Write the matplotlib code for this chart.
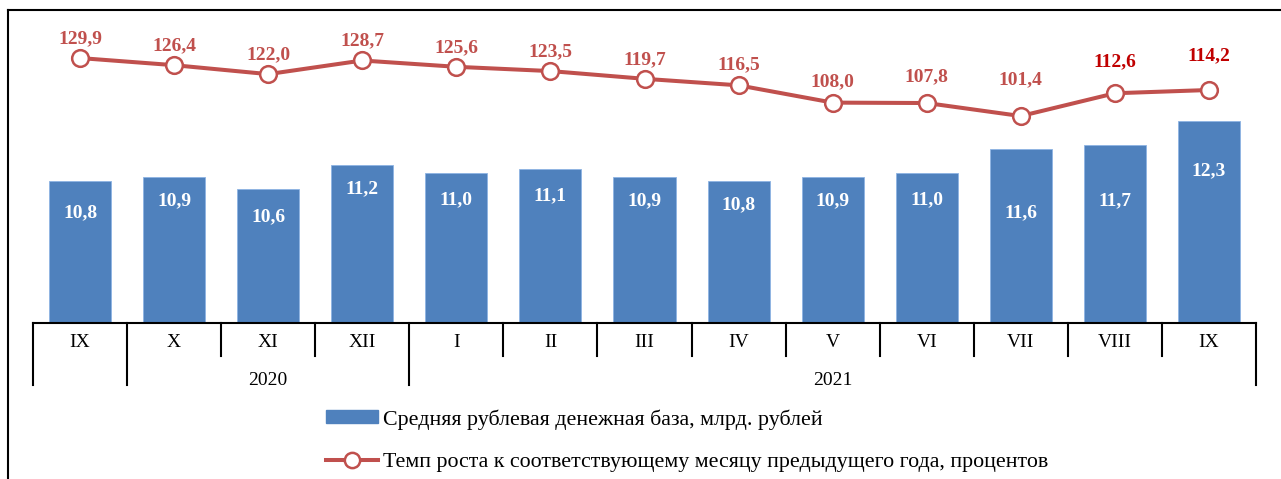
import matplotlib
matplotlib.use("Agg")
import matplotlib.pyplot as plt
from matplotlib.lines import Line2D

plt.rcParams['font.family'] = ['Liberation Serif', 'DejaVu Serif']

# data
months = ['IX', 'X', 'XI', 'XII', 'I', 'II', 'III', 'IV', 'V', 'VI', 'VII', 'VIII', 'IX']
years = ['2020', '2021']
base = [10.8, 10.9, 10.6, 11.2, 11.0, 11.1, 10.9, 10.8, 10.9, 11.0, 11.6, 11.7, 12.3]
growth = [129.9, 126.4, 122.0, 128.7, 125.6, 123.5, 119.7, 116.5, 108.0, 107.8, 101.4, 112.6, 114.2]

bar_name = 'Средняя рублевая денежная база, млрд. рублей'
line_name = 'Темп роста к соответствующему месяцу предыдущего года, процентов'

blue = '#4F81BD'
red = '#C0504D'

# label offsets (points)
bar_lab_off = [-23, -17, -20, -17, -19, -19, -17, -17, -17, -19, -46, -40, -36]
line_lab_off = [14, 14, 14, 14, 14, 14, 14, 15, 15, 19, 26, 23, 25]
line_lab_col = [red] * 11 + ['#C00000'] * 2

fig = plt.figure(figsize=(12.81, 4.79), dpi=100)
W, H = 1281, 479
ax = fig.add_axes([33 / W, 1 - 323 / H, (1256 - 33) / W, (323 - 20) / H])
x = list(range(len(months)))

ax.bar(x, base, width=0.66, color=blue, edgecolor='#8EB4E3', linewidth=0.6, zorder=2)
ax.set_xlim(-0.5, len(months) - 0.5)
ax.set_ylim(7.25, 14.83)
for i, v in enumerate(base):
    ax.annotate(f'{v:.1f}'.replace('.', ','), (i, v), xytext=(0, bar_lab_off[i]),
                textcoords='offset points', ha='center', va='center',
                color='white', fontsize=14, fontweight='bold', zorder=3)

ax2 = ax.twinx()
ax2.plot(x, growth, color=red, lw=2.9, marker='o', ms=12, mfc='white', mec=red,
         mew=1.8, zorder=4)
ax2.set_ylim(-0.3, 148.6)
for i, v in enumerate(growth):
    ax2.annotate(f'{v:.1f}'.replace('.', ','), (i, v), xytext=(0, line_lab_off[i]),
                 textcoords='offset points', ha='center', va='center',
                 color=line_lab_col[i], fontsize=14, fontweight='bold')

for a in (ax, ax2):
    for s in ('top', 'left', 'right'):
        a.spines[s].set_visible(False)
    a.set_yticks([])
    a.set_xticks([])
ax.spines['bottom'].set_linewidth(1.5)
ax2.spines['bottom'].set_visible(False)

# category axis: months and years
tr = ax.get_xaxis_transform()
long_sep = [0, 1, 4, len(months)]
for k in range(len(months) + 1):
    y_end = -0.205 if k in long_sep else -0.109
    ax.plot([k - 0.5, k - 0.5], [0, y_end], color='black', lw=1.5, transform=tr,
            clip_on=False)
for i, m in enumerate(months):
    ax.text(i, -0.065, m, transform=tr, ha='center', va='center', fontsize=14)
ax.text(2, -0.19, years[0], transform=tr, ha='center', va='center', fontsize=14)
ax.text(8, -0.19, years[1], transform=tr, ha='center', va='center', fontsize=14)

# outer frame (left and top)
fig.add_artist(Line2D([8 / W, 8 / W], [0, 1 - 10 / H], color='black', lw=1.5))
fig.add_artist(Line2D([8 / W, 1], [1 - 10 / H, 1 - 10 / H], color='black', lw=1.5))

handles = [plt.Rectangle((0, 0), 1, 1, color=blue),
           Line2D([], [], color=red, lw=2.9, marker='o', ms=11, mfc='white', mec=red, mew=1.8)]
fig.legend(handles, [bar_name, line_name], loc='upper left',
           bbox_to_anchor=(326 / W, 1 - 409 / H), frameon=False, fontsize=15.8,
           handlelength=2.38, handleheight=0.55, handletextpad=0.23, labelspacing=1.05,
           borderpad=0, borderaxespad=0)

fig.savefig('out.png', dpi=100)
